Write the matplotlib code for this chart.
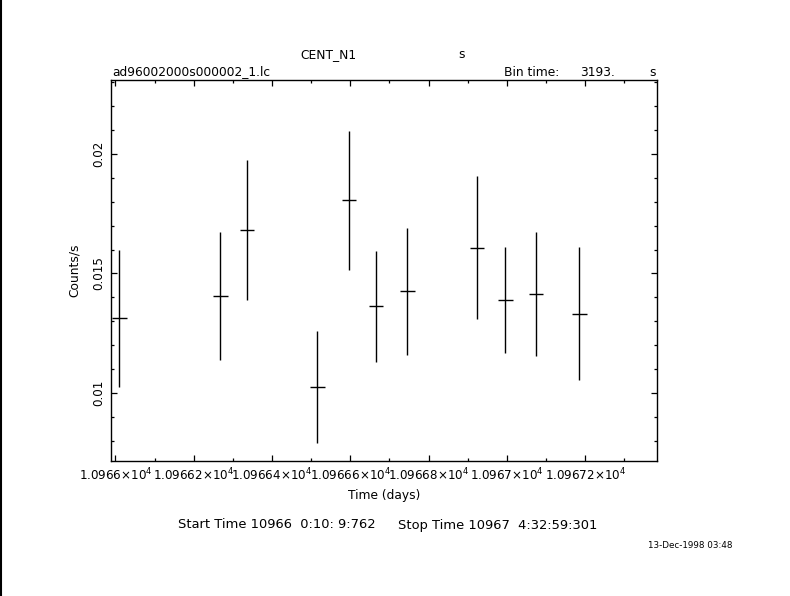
import numpy as np
import matplotlib
matplotlib.use('Agg')
import matplotlib.pyplot as plt
from matplotlib.ticker import MultipleLocator, FixedLocator, FixedFormatter

# Light curve bins (time in days, rate in counts/s)
time_days = [10966.010, 10966.268, 10966.336, 10966.516, 10966.597, 10966.666,
             10966.746, 10966.924, 10966.996, 10967.075, 10967.185]
rate = [0.01313, 0.01406, 0.01682, 0.01024, 0.01806, 0.01363,
        0.01426, 0.01607, 0.01388, 0.01413, 0.01331]
rate_err = [0.00286, 0.00269, 0.00292, 0.00235, 0.00290, 0.00233,
            0.00265, 0.00299, 0.00222, 0.00259, 0.00278]
bin_time_s = 3193.0
x_ticks = [10966.0, 10966.2, 10966.4, 10966.6, 10966.8, 10967.0, 10967.2]
x_ticklabels = [r'1.0966$\times$10$^4$', r'1.09662$\times$10$^4$', r'1.09664$\times$10$^4$',
                r'1.09666$\times$10$^4$', r'1.09668$\times$10$^4$', r'1.0967$\times$10$^4$',
                r'1.09672$\times$10$^4$']
y_ticks = [0.01, 0.015, 0.02]
y_ticklabels = ['0.01', '0.015', '0.02']

plt.rcParams['font.family'] = ['DejaVu Sans']
plt.rcParams['mathtext.default'] = 'regular'

W, H = 790, 596
FS = 8.8
fig = plt.figure(figsize=(W / 100, H / 100), dpi=100)
ax = fig.add_axes([111 / W, 1 - 461 / H, (657 - 111) / W, (461 - 80) / H])

half_bin = bin_time_s / 86400.0 / 2
ax.errorbar(time_days, rate, yerr=rate_err, xerr=half_bin, fmt='none',
            ecolor='black', elinewidth=1.0, capsize=0)

ax.set_xlim(10965.9888, 10967.3834)
ax.set_ylim(0.007155, 0.023096)

ax.xaxis.set_major_locator(FixedLocator(x_ticks))
ax.xaxis.set_major_formatter(FixedFormatter(x_ticklabels))
ax.xaxis.set_minor_locator(MultipleLocator(0.1))
ax.yaxis.set_major_locator(FixedLocator(y_ticks))
ax.yaxis.set_major_formatter(FixedFormatter(y_ticklabels))
ax.yaxis.set_minor_locator(MultipleLocator(0.001))

ax.tick_params(which='both', direction='in', top=True, right=True,
               colors='black', labelsize=8.6, width=0.9)
ax.tick_params(which='major', length=4.5, pad=4)
ax.tick_params(which='minor', length=2.2)
for lab in ax.get_yticklabels():
    lab.set_rotation(90)
    lab.set_va('center')
for sp in ax.spines.values():
    sp.set_linewidth(1.0)

ax.set_xlabel('Time (days)', fontsize=FS, labelpad=4)
ax.set_ylabel('Counts/s', fontsize=FS, labelpad=8)

# header texts
fig.text(328 / W, 1 - 54.5 / H, 'CENT_N1', ha='center', va='center', fontsize=FS)
fig.text(462 / W, 1 - 54.5 / H, 's', ha='center', va='center', fontsize=FS)
fig.text(112 / W, 1 - 72 / H, 'ad96002000s000002_1.lc', ha='left', va='center', fontsize=FS)
fig.text(504 / W, 1 - 72 / H, 'Bin time:', ha='left', va='center', fontsize=FS)
fig.text(615 / W, 1 - 72 / H, f'{bin_time_s:.0f}.', ha='right', va='center', fontsize=FS)
fig.text(653 / W, 1 - 72 / H, 's', ha='center', va='center', fontsize=FS)

# footer texts
fig.text(178 / W, 1 - 525 / H, 'Start Time 10966  0:10: 9:762', ha='left', va='center', fontsize=9.4)
fig.text(398 / W, 1 - 525 / H, 'Stop Time 10967  4:32:59:301', ha='left', va='center', fontsize=9.4)
fig.text(648 / W, 1 - 546 / H, '13-Dec-1998 03:48', ha='left', va='center', fontsize=6.3)

# left page border
fig.add_artist(plt.Line2D([0.5 / W, 0.5 / W], [0, 1], color='black', lw=1.5,
                          transform=fig.transFigure))

fig.savefig('out.png', dpi=100)
